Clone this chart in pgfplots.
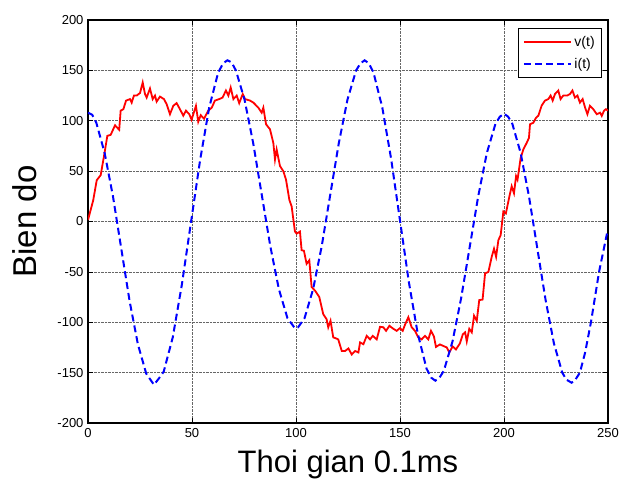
\documentclass[border=0pt]{standalone}
\usepackage{pgfplots}
\pgfplotsset{compat=1.18}
\usepackage{fontspec}
\setmainfont{Liberation Sans}
\begin{document}
\begin{tikzpicture}
\begin{axis}[
  scale only axis,
  width=520pt, height=403pt,
  xmin=0, xmax=250, ymin=-200, ymax=200,
  xtick={0,50,100,150,200,250},
  ytick={-200,-150,-100,-50,0,50,100,150,200},
  tick align=inside,
  major tick length=5pt,
  tick style={black, line width=0.6pt},
  axis line style={black, line width=1.2pt},
  grid=major,
  major grid style={densely dotted, black!60, line width=0.6pt},
  /pgf/number format/assume math mode=true,
  ticklabel style={font=\fontsize{13}{15}\selectfont},
  xticklabel style={yshift=-2pt},
  yticklabel style={xshift=-1pt},
  xlabel={Thoi gian 0.1ms},
  ylabel={Bien do},
  xlabel style={font=\fontsize{31}{36}\selectfont, inner sep=0pt, anchor=base, at={(axis description cs:0.5,-0.124)}},
  ylabel style={font=\fontsize{33}{36}\selectfont, inner sep=0pt, anchor=south, rotate=0, at={(axis description cs:-0.0987,0.5)}},
  legend style={at={(axis description cs:1,1)}, anchor=north east, xshift=-6.3pt, yshift=-8.3pt,
    font=\fontsize{14}{16}\selectfont, draw=black, line width=1pt, inner xsep=4pt, inner ysep=5pt,
    row sep=5pt, nodes={inner sep=2.5pt}, cells={anchor=west}},
  legend image code/.code={\draw[#1] (0pt,0pt) -- (47pt,0pt);},
]
\addplot[red, line width=1.8pt] coordinates {
(0,1.5) (2.5,21) (4.2,41) (6.1,46) (7.7,65) (9.3,85) (10.9,86) (13,95.5) (15,91) (15.7,110) (17,111.5) (18.3,120) (20.2,121.5) (21,118) (22.1,125) (23.4,125) (25,127.5) (26.3,138) (27.4,126.5) (28.2,123) (29.8,132) (31.1,121.5) (32.2,125) (33,119) (34.6,124) (36.5,121.5) (37.8,116.5) (39.4,106.5) (41,114.8) (42.6,117.5) (44.2,111.5) (45.8,105) (47.1,110) (48.7,106.5) (49.8,101) (51.9,114.8) (53,99) (54.2,105.5) (55.8,102) (57.8,110) (59.5,113) (61,120) (63.1,121.5) (64.7,123) (66.3,130) (67.5,125) (68.6,133) (69.9,121.5) (71.5,125) (72.7,117.5) (74.4,126.5) (75.5,121.5) (77.9,120) (79.5,118) (81.9,113) (83.5,108) (84.3,113) (85.6,96.5) (87.5,91.5) (89.1,78) (89.9,61.5) (90.7,71.5) (92.3,55) (93.9,50) (95.2,41.5) (96.8,21.5) (97.9,15) (99.5,-10) (100.3,-12) (101.9,-10) (102.7,-28.5) (103.8,-29) (105.1,-42) (106.4,-38.5) (107.5,-65) (109.1,-68.5) (111.2,-75) (113.1,-92) (114.7,-97) (115.5,-105) (116.6,-98.5) (117.9,-115) (119.2,-116) (120.3,-117) (122,-128.5) (123.6,-128.5) (125.2,-126) (126.8,-132) (128.4,-128.5) (130,-130) (130.8,-120) (132.4,-121.8) (134,-113.5) (135.6,-117) (136.9,-113.5) (138.8,-117) (140.4,-104.5) (142,-105) (143.3,-108.5) (144.9,-103.5) (146.8,-106.5) (148.4,-108.5) (150,-105.8) (151.3,-108.5) (152.4,-102.5) (154,-95) (155.6,-105) (157.2,-108.5) (158.8,-115) (160.4,-117) (162,-113.5) (163.6,-117) (164.9,-108.5) (166.3,-114) (167.3,-124.5) (169.2,-122) (170.8,-123.5) (172.5,-125) (173.7,-130) (175.3,-124) (176.9,-127) (178.8,-121) (180.2,-112) (181.3,-110) (182.1,-119) (183.3,-106.5) (184.5,-110) (185.6,-93.5) (186.9,-98.5) (188.1,-78) (189.7,-77.5) (190.9,-51.5) (192.5,-50) (194.1,-35) (195.2,-27) (196.2,-35) (197.3,-18.5) (198.4,-13.5) (199.7,10) (200.9,8) (202.6,25) (203.7,35) (204.8,28) (205.8,45) (206.5,41.5) (208,63) (209.3,71.5) (210.9,78) (212,83) (212.5,96.5) (214.1,98) (215.4,103) (216.5,105) (218.1,115) (219.7,120) (221.3,121.5) (222.4,125) (223.4,120) (224.5,126.5) (226.1,130) (227.2,121.5) (228.5,125) (230.4,125) (231.7,126.5) (232.9,130) (234.1,123) (235.3,125) (236.5,118) (237.8,121.5) (239,113) (240.1,106.5) (241.3,114.8) (242.9,111.5) (244.6,106.5) (246.2,108) (247,104.8) (248.1,110) (249,111.5) (250,110)
};
\addlegendentry{v(t)}
\addplot[blue, line width=2pt, dash pattern=on 7pt off 4pt] coordinates {
(0,108) (2,106) (4,98) (8,68) (12,25) (16,-27) (20,-79) (24,-122) (28,-151) (31.7,-162) (34,-156) (36.4,-149) (40.75,-115) (45.1,-63) (49.5,-1) (53.9,61) (58.25,113) (62.6,148) (65,157) (67,160) (69,158) (71.1,150) (75.25,121) (79.4,78) (83.5,27) (87.6,-24) (91.75,-67) (95.9,-96) (99.5,-106) (101,-105) (104.1,-96) (108.25,-67) (112.4,-24) (116.5,27) (120.6,78) (124.75,121) (128.9,150) (131,157) (133,160) (135,157) (137.25,148) (141.5,113) (145.75,62) (150,1) (154.25,-60) (158.5,-111) (162.75,-146) (165,-155) (167,-158) (169,-155) (171.1,-148) (175.25,-119) (179.4,-76) (183.5,-25.5) (187.6,25) (191.75,68) (195.9,97) (198,104) (200,107) (202,104) (204,97) (208,68) (212,25) (216,-26.5) (220,-78) (224,-121) (228,-150) (230,-157) (232.5,-160) (234,-158) (236.5,-150) (239,-130) (241.8,-100) (245.7,-50) (249.5,-12)
};
\addlegendentry{i(t)}
\end{axis}
\pgfresetboundingbox
\path (current axis.south west) ++(-88pt,-56pt) coordinate (bbA);
\path (current axis.north east) ++(14pt,20pt) coordinate (bbB);
\useasboundingbox (bbA) rectangle (bbB);
\end{tikzpicture}
\end{document}
